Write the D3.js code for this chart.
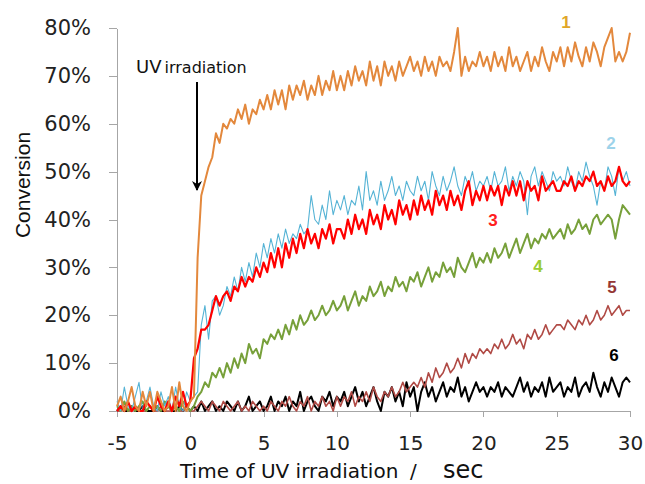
<!DOCTYPE html>
<meta charset="utf-8">
<script src="https://cdn.jsdelivr.net/npm/d3@7"></script>
<style>

body {
  margin: 0;
  background: #fff;
}

.axis path,
.axis line {
  fill: none;
  stroke: #a6a6a6;
  shape-rendering: crispEdges;
}

.axis text {
  font-family: "DejaVu Sans", sans-serif;
  fill: #222;
}

.curve {
  fill: none;
  stroke-linejoin: round;
}

.tag {
  font-family: "Liberation Sans", Arial, sans-serif;
  font-weight: bold;
  font-size: 17px;
}

</style>
<body>
<script>

  // Sampling of every run: one reading each 0.25 s from -5 s.
  var tStart = -5,
      tStep = 0.25;

  var xTicks = [-5, 0, 5, 10, 15, 20, 25, 30],
      yTicks = [0, 10, 20, 30, 40, 50, 60, 70, 80];

  // Conversion (%) of each run.
  var run1 = [1,3,0,2,5,1,0,4,1,4,0,4,2,0,1,5,0,6,1,0,2,
    3,32,45,48,51,53,58,56,60,59,61,60,63,61,64,60,63,62,65,63,
    66,63,67,64,67,63,68,65,68,66,69,65,68,66,70,66,69,67,71,67,
    70,67,71,68,72,69,71,68,73,69,72,68,73,70,72,69,73,70,72,74,
    71,73,70,74,71,73,70,74,72,73,71,75,80,70,74,71,73,72,75,72,
    74,71,75,72,74,71,76,72,74,71,73,75,71,74,72,76,73,71,75,73,
    76,72,76,73,77,74,72,76,73,77,75,72,76,78,80,73,75,73,75,79];

  var run2 = [2,0,5,1,0,3,6,0,2,5,1,0,4,1,3,0,5,1,0,4,2,
    3,4,18,22,15,23,24,20,22,26,24,28,25,30,27,31,28,33,30,35,
    32,36,33,37,34,38,35,37,36,39,37,38,45,40,39,43,40,46,41,44,
    42,45,41,44,43,47,42,50,44,46,43,48,44,46,49,45,47,44,48,46,
    45,49,46,48,44,50,47,45,49,46,48,51,47,45,49,47,50,46,48,47,
    49,46,50,47,48,51,46,49,47,50,48,41,49,51,47,50,48,46,50,48,
    49,47,51,48,46,50,48,52,49,47,43,48,46,51,49,45,51,48,50,47];

  var run3 = [0,1,0,2,0,1,0,0,2,1,0,3,1,0,2,0,3,1,4,1,2,
    11,13,17,17,18,21,24,22,24,25,23,26,25,28,26,28,27,30,28,31,
    29,33,30,34,30,35,32,36,33,37,34,38,35,37,34,38,36,39,35,38,
    38,36,40,37,41,38,40,37,42,39,41,38,43,40,42,39,44,41,43,40,
    44,41,45,42,44,41,46,43,45,42,46,43,45,42,46,48,43,46,44,47,
    44,47,45,47,43,47,45,48,45,48,44,48,46,47,44,49,46,47,48,46,
    46,48,47,49,46,48,47,49,48,50,47,48,46,49,47,48,51,48,47,48];

  var run4 = [1,0,2,0,1,0,1,2,0,1,0,1,0,2,1,0,1,0,2,1,0,
    1,3,4,6,5,8,7,9,7,10,8,11,9,12,10,14,12,13,11,15,
    14,16,15,17,15,18,16,19,17,20,18,19,21,19,20,22,20,21,23,21,
    22,24,21,23,25,22,24,23,26,24,25,27,24,26,25,28,26,27,25,28,
    27,29,26,28,30,27,29,28,31,29,30,28,32,30,29,31,33,30,32,31,
    33,31,34,32,33,35,32,34,36,33,35,37,34,36,35,37,36,38,36,37,
    38,36,39,37,38,40,38,39,37,40,41,39,40,41,40,36,40,43,42,41];

  var run5 = [0,0,1,0,0,1,0,0,0,1,0,0,1,0,0,0,1,0,0,1,0,
    0,1,2,1,0,2,1,0,2,1,0,1,2,0,1,0,2,1,0,1,
    0,2,1,0,2,1,3,1,0,2,1,3,0,2,1,3,1,2,0,3,
    1,3,2,4,1,3,2,4,2,5,3,2,4,3,5,3,4,6,4,5,
    6,5,7,5,8,6,9,7,8,10,8,9,11,9,12,10,12,11,13,12,
    13,12,14,13,15,13,14,16,14,15,13,16,15,17,15,16,18,16,17,18,
    18,17,19,18,17,19,18,20,18,19,21,19,20,22,20,21,22,20,21,21];

  var run6 = [0,1,0,0,1,0,0,1,0,0,0,1,0,0,1,0,0,1,0,1,0,
    1,0,2,0,1,2,0,1,0,2,1,0,2,0,1,3,0,1,2,0,
    1,3,0,2,1,3,0,2,1,4,0,2,3,1,0,3,2,4,1,3,
    2,4,1,3,5,2,4,1,3,5,2,0,4,3,5,2,4,1,6,3,
    5,0,4,6,3,5,2,4,6,3,5,4,7,3,5,2,4,6,4,5,
    3,5,4,6,3,5,4,3,5,7,4,6,3,5,4,6,3,7,4,5,
    6,3,5,4,7,3,5,6,4,8,5,3,6,4,7,5,3,6,7,6];

  // Drawing order is bottom to top.
  var runs = [
    {name: "6", values: run6, color: "#000000", width: 2,   tagColor: "#000000", tag: [614, 361]},
    {name: "5", values: run5, color: "#b04a45", width: 1.6, tagColor: "#953735", tag: [612, 293]},
    {name: "4", values: run4, color: "#77a03a", width: 2,   tagColor: "#9acd32", tag: [538, 272]},
    {name: "2", values: run2, color: "#55b3d5", width: 1.1, tagColor: "#9dd3ea", tag: [611, 149]},
    {name: "3", values: run3, color: "#ff0000", width: 2.2, tagColor: "#ff2020", tag: [493, 226]},
    {name: "1", values: run1, color: "#e3883c", width: 2,   tagColor: "#e0a628", tag: [566, 28]}
  ];

  var width = 645,
      height = 484;

  var svg = d3.select("body").append("svg")
    .attr("width", width)
    .attr("height", height);

  var x = d3.scaleLinear().domain([-5, 30]).range([117, 630]);
  var y = d3.scaleLinear().domain([0, 80]).range([411, 28]);

  //////////////////// Axes ////////////////////

  svg.append("g")
    .attr("class", "x axis")
    .attr("transform", "translate(0," + y(0) + ")")
    .call(d3.axisBottom(x).tickValues(xTicks).tickFormat(String)
      .tickSize(6).tickSizeOuter(0).tickPadding(19))
    .selectAll("text")
    .attr("font-size", "20px");

  svg.append("g")
    .attr("class", "y axis")
    .attr("transform", "translate(" + x(-5) + ",0)")
    .call(d3.axisLeft(y).tickValues(yTicks).tickFormat(function(d) { return d + "%"; })
      .tickSize(8).tickSizeOuter(0).tickPadding(18))
    .selectAll("text")
    .attr("font-size", "21px");

  // Axis titles
  svg.append("text")
    .text("Conversion")
    .attr("transform", "translate(30,185) rotate(-90)")
    .attr("text-anchor", "middle")
    .attr("font-family", "Liberation Sans, Arial, sans-serif")
    .attr("font-size", "21px")
    .attr("fill", "#111");

  var xTitle = svg.append("text")
    .attr("x", 180)
    .attr("y", 478)
    .attr("font-family", "DejaVu Sans, sans-serif")
    .attr("fill", "#111");
  xTitle.append("tspan").text("Time of UV irradiation").attr("font-size", "20px");
  xTitle.append("tspan").text("/").attr("x", 410).attr("font-size", "20px");
  xTitle.append("tspan").text("sec").attr("x", 443).attr("font-size", "24px");

  //////////////////// Curves ////////////////////

  var line = d3.line()
    .x(function(d, i) { return x(tStart + i * tStep); })
    .y(function(d) { return y(d); });

  svg.selectAll(".curve")
    .data(runs)
    .enter().append("path")
    .attr("class", "curve")
    .attr("d", function(d) { return line(d.values); })
    .attr("stroke", function(d) { return d.color; })
    .attr("stroke-width", function(d) { return d.width; });

  svg.selectAll(".tag")
    .data(runs)
    .enter().append("text")
    .attr("class", "tag")
    .attr("x", function(d) { return d.tag[0]; })
    .attr("y", function(d) { return d.tag[1]; })
    .attr("text-anchor", "middle")
    .attr("fill", function(d) { return d.tagColor; })
    .text(function(d) { return d.name; });

  //////////////////// UV annotation ////////////////////

  var note = svg.append("text")
    .attr("x", 136)
    .attr("y", 73)
    .attr("font-family", "DejaVu Sans, sans-serif")
    .attr("fill", "#111");
  note.append("tspan").text("UV").attr("font-size", "18px");
  note.append("tspan").text("irradiation").attr("font-size", "16px").attr("dx", 3);

  svg.append("defs").append("marker")
    .attr("id", "head")
    .attr("viewBox", "0 0 10 10")
    .attr("refX", 9)
    .attr("refY", 5)
    .attr("markerWidth", 5)
    .attr("markerHeight", 6)
    .attr("markerUnits", "strokeWidth")
    .attr("orient", "auto")
    .append("path")
    .attr("d", "M0,0L10,5L0,10L3,5Z")
    .attr("fill", "#000");

  svg.append("line")
    .attr("x1", 197).attr("y1", 82)
    .attr("x2", 197).attr("y2", 190)
    .attr("stroke", "#000")
    .attr("stroke-width", 2)
    .attr("marker-end", "url(#head)");

</script>
</body>
</html>
